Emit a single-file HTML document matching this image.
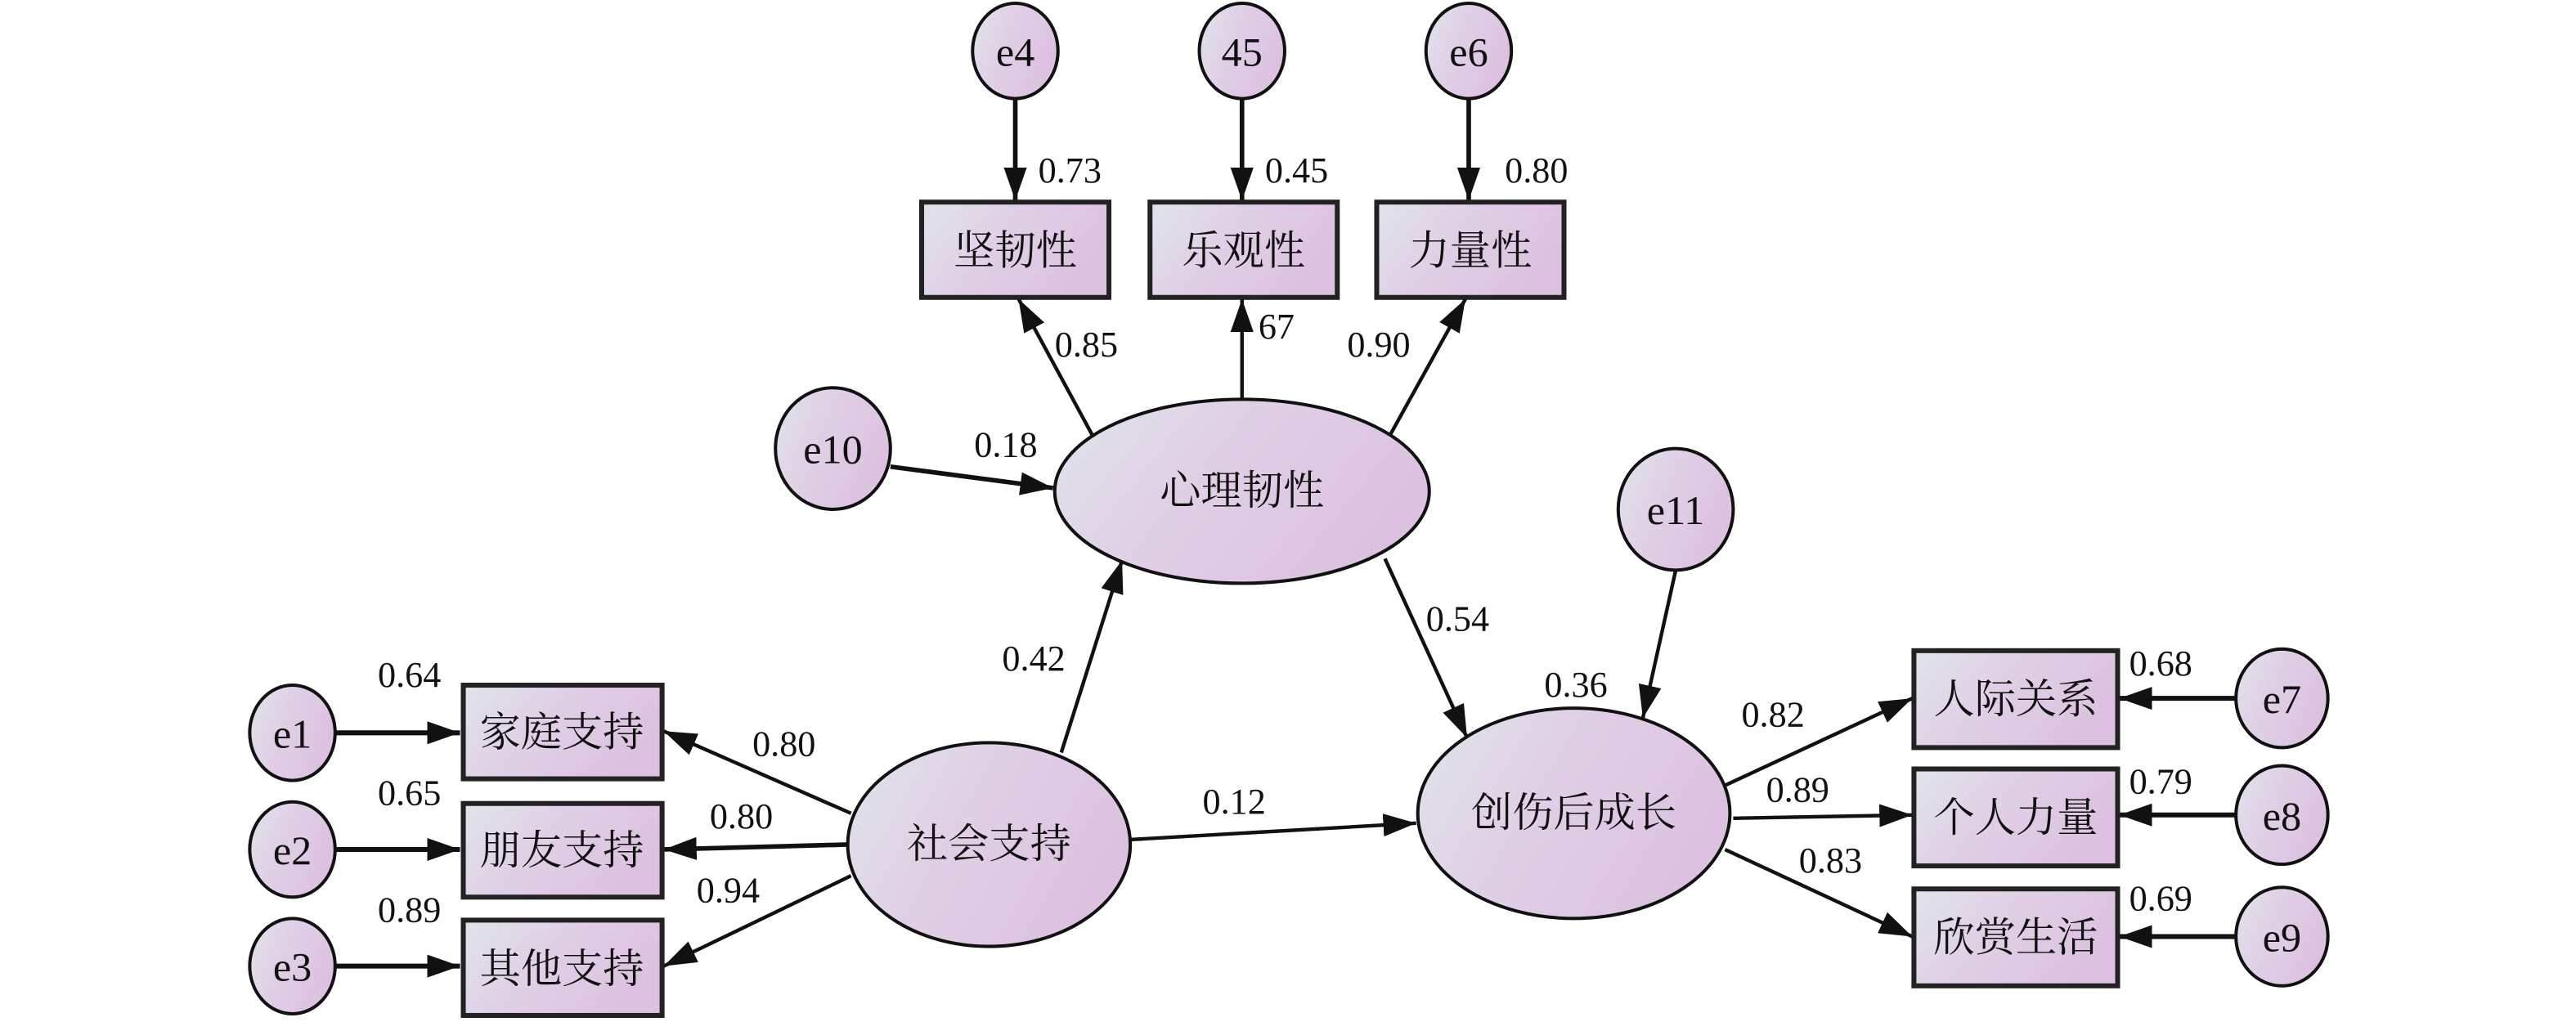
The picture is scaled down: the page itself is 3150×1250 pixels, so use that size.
<!DOCTYPE html>
<html><head><meta charset="utf-8"><style>
html,body{margin:0;padding:0;background:#fff;}
svg{display:block;}
text{font-family:"Liberation Serif","Noto Serif CJK SC",serif;fill:#111;}
.n{font-size:22px;}
.c{font-size:25px;}
</style></head><body>
<svg width="3150" height="1250" viewBox="0 0 1568 622" preserveAspectRatio="none" xmlns="http://www.w3.org/2000/svg">
<defs>
<linearGradient id="g" x1="0" y1="0" x2="1" y2="0.4">
<stop offset="0" stop-color="#dfe4ea"/><stop offset="0.5" stop-color="#e0cfe6"/><stop offset="1" stop-color="#dcc2e0"/>
</linearGradient>
<marker id="a" markerUnits="userSpaceOnUse" markerWidth="22" markerHeight="16" refX="20" refY="8" orient="auto">
<path d="M0,1 L20,8 L0,15 Z" fill="#111"/>
</marker>
</defs>
<g stroke="#111" stroke-width="2.2" fill="none">
<!-- error to top boxes -->
<line x1="618" y1="60" x2="618" y2="122" marker-end="url(#a)" stroke-width="2.8"/>
<line x1="756" y1="60" x2="756" y2="122" marker-end="url(#a)" stroke-width="2.8"/>
<line x1="894" y1="60" x2="894" y2="122" marker-end="url(#a)" stroke-width="2.8"/>
<!-- latent to top boxes -->
<line x1="665" y1="265" x2="620" y2="182" marker-end="url(#a)"/>
<line x1="756" y1="243" x2="756" y2="182" marker-end="url(#a)"/>
<line x1="846" y1="265" x2="892" y2="182" marker-end="url(#a)"/>
<line x1="542" y1="284" x2="641" y2="297" marker-end="url(#a)" stroke-width="2.8"/>
<line x1="1020" y1="347" x2="1000" y2="437" marker-end="url(#a)"/>
<line x1="646" y1="458" x2="683" y2="341" marker-end="url(#a)"/>
<line x1="688" y1="511" x2="862" y2="501" marker-end="url(#a)"/>
<line x1="843" y1="340" x2="893" y2="449" marker-end="url(#a)"/>
<!-- social support loadings -->
<line x1="518" y1="495" x2="404" y2="445" marker-end="url(#a)"/>
<line x1="516" y1="514" x2="404" y2="517" marker-end="url(#a)" stroke-width="2.8"/>
<line x1="518" y1="533" x2="404" y2="588" marker-end="url(#a)"/>
<line x1="204" y1="446" x2="280" y2="446" marker-end="url(#a)" stroke-width="3"/>
<line x1="204" y1="517" x2="280" y2="517" marker-end="url(#a)" stroke-width="3"/>
<line x1="204" y1="588" x2="280" y2="588" marker-end="url(#a)" stroke-width="3"/>
<!-- right -->
<line x1="1050" y1="478" x2="1164" y2="425" marker-end="url(#a)"/>
<line x1="1055" y1="498" x2="1164" y2="496" marker-end="url(#a)"/>
<line x1="1050" y1="517" x2="1164" y2="570" marker-end="url(#a)"/>
<line x1="1361" y1="425" x2="1290" y2="425" marker-end="url(#a)" stroke-width="3"/>
<line x1="1361" y1="496" x2="1290" y2="496" marker-end="url(#a)" stroke-width="3"/>
<line x1="1361" y1="570" x2="1290" y2="570" marker-end="url(#a)" stroke-width="3"/>
</g>
<g fill="url(#g)" stroke="#111" stroke-width="2">
<ellipse cx="618" cy="31" rx="26" ry="29"/>
<ellipse cx="756" cy="31" rx="26" ry="29"/>
<ellipse cx="894" cy="31" rx="26" ry="29"/>
<ellipse cx="507" cy="273" rx="35" ry="37"/>
<ellipse cx="1020" cy="310" rx="35" ry="37"/>
<ellipse cx="178" cy="446" rx="26" ry="29"/>
<ellipse cx="178" cy="517" rx="26" ry="29"/>
<ellipse cx="178" cy="588" rx="26" ry="29"/>
<ellipse cx="1389" cy="425" rx="28" ry="30"/>
<ellipse cx="1389" cy="496" rx="28" ry="30"/>
<ellipse cx="1389" cy="570" rx="28" ry="30"/>
<ellipse cx="756" cy="299" rx="114" ry="56"/>
<ellipse cx="958" cy="495" rx="95" ry="64"/>
<ellipse cx="602" cy="514" rx="86" ry="62"/>
</g>
<g fill="url(#g)" stroke="#222" stroke-width="3">
<rect x="561" y="123" width="114" height="58"/>
<rect x="700" y="123" width="114" height="58"/>
<rect x="838" y="123" width="114" height="58"/>
<rect x="282" y="417" width="121" height="57"/>
<rect x="282" y="489" width="121" height="57"/>
<rect x="282" y="560" width="121" height="58"/>
<rect x="1165" y="396" width="124" height="59"/>
<rect x="1165" y="468" width="124" height="59"/>
<rect x="1165" y="541" width="124" height="59"/>
</g>
<g class="c" text-anchor="middle">
<text x="618" y="40">e4</text><text x="756" y="40">45</text><text x="894" y="40">e6</text>
<text x="507" y="282">e10</text><text x="1020" y="319">e11</text>
<text x="178" y="455">e1</text><text x="178" y="526">e2</text><text x="178" y="597">e3</text>
<text x="1389" y="434">e7</text><text x="1389" y="505">e8</text><text x="1389" y="579">e9</text>
<text x="618" y="161">坚韧性</text><text x="757" y="161">乐观性</text><text x="895" y="161">力量性</text>
<text x="342" y="454">家庭支持</text><text x="342" y="526">朋友支持</text><text x="342" y="598">其他支持</text>
<text x="1227" y="434">人际关系</text><text x="1227" y="506">个人力量</text><text x="1227" y="579">欣赏生活</text>
<text x="756" y="307">心理韧性</text><text x="958" y="503">创伤后成长</text><text x="602" y="522">社会支持</text>
</g>
<g class="n">
<text x="632" y="111">0.73</text><text x="770" y="111">0.45</text><text x="916" y="111">0.80</text>
<text x="642" y="217">0.85</text><text x="766" y="206">67</text><text x="820" y="217">0.90</text>
<text x="593" y="278">0.18</text>
<text x="610" y="408">0.42</text><text x="868" y="384">0.54</text><text x="940" y="424">0.36</text>
<text x="732" y="495">0.12</text>
<text x="230" y="418">0.64</text><text x="230" y="490">0.65</text><text x="230" y="561">0.89</text>
<text x="458" y="460">0.80</text><text x="432" y="504">0.80</text><text x="424" y="549">0.94</text>
<text x="1060" y="442">0.82</text><text x="1075" y="488">0.89</text><text x="1095" y="531">0.83</text>
<text x="1296" y="411">0.68</text><text x="1296" y="483">0.79</text><text x="1296" y="554">0.69</text>
</g>
</svg>
</body></html>
